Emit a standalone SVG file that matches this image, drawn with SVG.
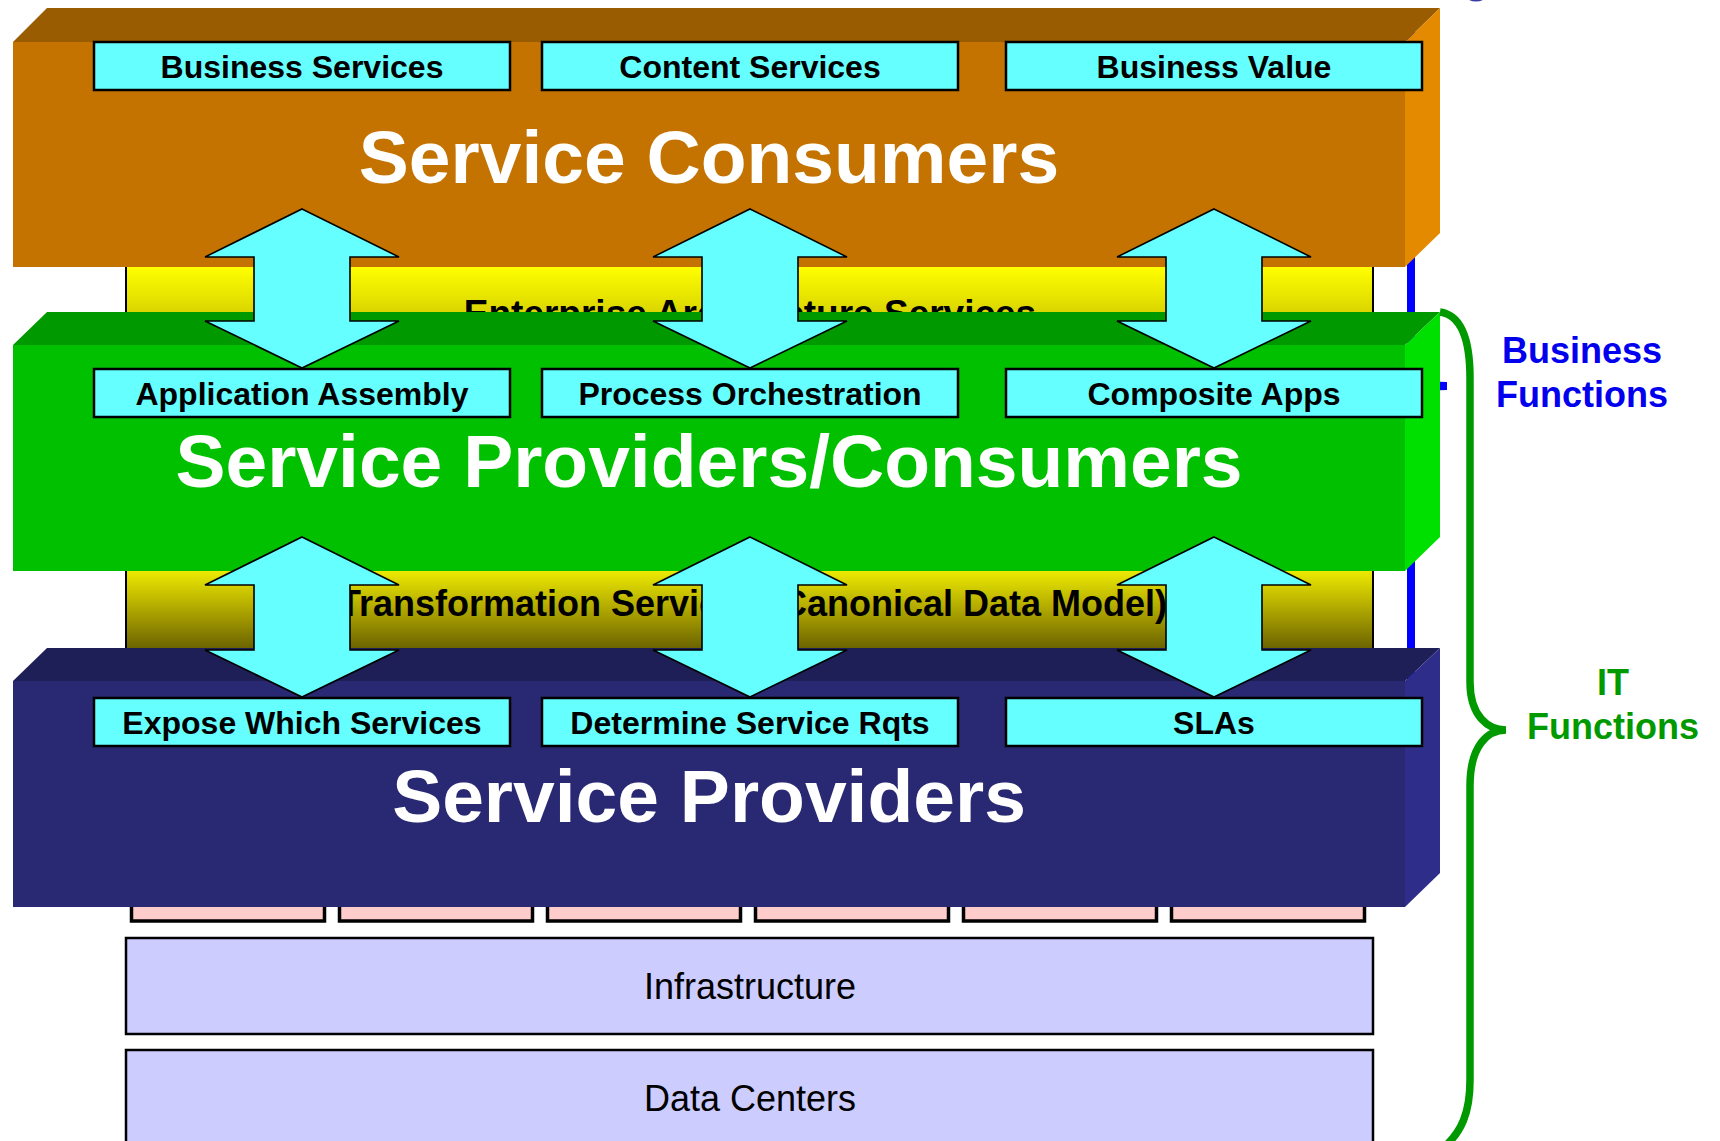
<svg xmlns="http://www.w3.org/2000/svg" width="1720" height="1141" viewBox="0 0 1720 1141">
  <defs>
    <linearGradient id="band1" gradientUnits="userSpaceOnUse" x1="0" y1="267" x2="0" y2="340">
      <stop offset="0" stop-color="#FFFF00"/>
      <stop offset="1" stop-color="#C4BC00"/>
    </linearGradient>
    <linearGradient id="band2" gradientUnits="userSpaceOnUse" x1="0" y1="565" x2="0" y2="648">
      <stop offset="0" stop-color="#F6F400"/>
      <stop offset="0.5" stop-color="#B4AC00"/>
      <stop offset="1" stop-color="#6C6400"/>
    </linearGradient>
    <style>
      .box { fill: #66FFFF; stroke: #000; stroke-width: 2.5; }
      .boxtxt { font-family: "Liberation Sans", Arial, sans-serif; font-weight: bold; font-size: 32px; fill: #000; text-anchor: middle; }
      .big { font-family: "Liberation Sans", Arial, sans-serif; font-weight: bold; font-size: 75px; fill: #FFFFFF; text-anchor: middle; }
      .bandtxt { font-family: "Liberation Sans", Arial, sans-serif; font-weight: bold; font-size: 36px; fill: #000; text-anchor: middle; }
      .band { stroke: #000; stroke-width: 2; }
      .pink { fill: #FFCCCC; stroke: #000; stroke-width: 3.5; }
      .lav { fill: #CCCCFF; stroke: #000; stroke-width: 2.5; }
      .lavtxt { font-family: "Liberation Sans", Arial, sans-serif; font-size: 36px; fill: #000; text-anchor: middle; }
      .arrow { fill: #66FFFF; stroke: #000; stroke-width: 1.6; stroke-linejoin: miter; }
      .side { font-family: "Liberation Sans", Arial, sans-serif; font-weight: bold; font-size: 36px; text-anchor: middle; }
    </style>
  </defs>
  <rect x="0" y="0" width="1720" height="1141" fill="#FFFFFF"/>

  <!-- blue brace (mostly hidden behind the layers) -->
  <g id="business-brace">
    <ellipse cx="1476" cy="-3" rx="9" ry="4.5" fill="#3A3AA8"/>
    <path d="M1411,30 V368 Q1411,386 1447,386 Q1411,386 1411,404 V880" fill="none" stroke="#0000FF" stroke-width="8"/>
  </g>

  <g id="enterprise-architecture-services">
    <rect class="band" x="126" y="250" width="1247" height="95" fill="url(#band1)"/>
    <text class="bandtxt" x="750" y="326" style="font-size:37px">Enterprise Architecture Services</text>
  </g>

  <g id="transformation-services">
    <rect class="band" x="126" y="545" width="1247" height="104" fill="url(#band2)"/>
    <text class="bandtxt" x="753" y="616">Transformation Services (Canonical Data Model)</text>
  </g>

  <g id="pink-components">
    <rect class="pink" x="131.5" y="880" width="193" height="41"/>
    <rect class="pink" x="339.5" y="880" width="193" height="41"/>
    <rect class="pink" x="547.5" y="880" width="193" height="41"/>
    <rect class="pink" x="755.5" y="880" width="193" height="41"/>
    <rect class="pink" x="963.5" y="880" width="193" height="41"/>
    <rect class="pink" x="1171.5" y="880" width="193" height="41"/>
  </g>

  <g id="infrastructure">
    <rect class="lav" x="126" y="938" width="1247" height="96"/>
    <text class="lavtxt" x="750" y="999">Infrastructure</text>
  </g>

  <g id="data-centers">
    <rect class="lav" x="126" y="1050" width="1247" height="100"/>
    <text class="lavtxt" x="750" y="1111">Data Centers</text>
  </g>

  <g id="service-consumers">
    <polygon points="13,42 47,8 1440,8 1405,42" fill="#995C00"/>
    <rect x="13" y="42" width="1392" height="225" fill="#C47300"/>
    <polygon points="1405,42 1440,8 1440,233 1405,267" fill="#E38A00"/>
    <text class="big" x="709" y="183">Service Consumers</text>
  </g>

  <g id="service-providers-consumers">
    <polygon points="13,345 47,312 1440,312 1405,345" fill="#009900"/>
    <rect x="13" y="345" width="1392" height="226" fill="#00C000"/>
    <polygon points="1405,345 1440,312 1440,537 1405,571" fill="#00E000"/>
    <text class="big" x="709" y="487">Service Providers/Consumers</text>
  </g>

  <g id="service-providers">
    <polygon points="13,681 47,648 1440,648 1405,681" fill="#1F1F58"/>
    <rect x="13" y="681" width="1392" height="226" fill="#282873"/>
    <polygon points="1405,681 1440,648 1440,873 1405,907" fill="#2E2E8A"/>
    <text class="big" x="709" y="822">Service Providers</text>
  </g>

  <g id="connectors">
    <polygon class="arrow" points="302,209 399,257 350,257 350,321 399,321 302,368 205,321 254,321 254,257 205,257"/>
    <polygon class="arrow" points="750,209 847,257 798,257 798,321 847,321 750,368 653,321 702,321 702,257 653,257"/>
    <polygon class="arrow" points="1214,209 1311,257 1262,257 1262,321 1311,321 1214,368 1117,321 1166,321 1166,257 1117,257"/>
    <polygon class="arrow" points="302,537 399,585 350,585 350,650 399,650 302,697 205,650 254,650 254,585 205,585"/>
    <polygon class="arrow" points="750,537 847,585 798,585 798,650 847,650 750,697 653,650 702,650 702,585 653,585"/>
    <polygon class="arrow" points="1214,537 1311,585 1262,585 1262,650 1311,650 1214,697 1117,650 1166,650 1166,585 1117,585"/>
  </g>

  <g id="business-services">
    <rect class="box" x="94" y="42" width="416" height="48"/>
    <text class="boxtxt" x="302" y="78">Business Services</text>
  </g>
  <g id="content-services">
    <rect class="box" x="542" y="42" width="416" height="48"/>
    <text class="boxtxt" x="750" y="78">Content Services</text>
  </g>
  <g id="business-value">
    <rect class="box" x="1006" y="42" width="416" height="48"/>
    <text class="boxtxt" x="1214" y="78">Business Value</text>
  </g>

  <g id="application-assembly">
    <rect class="box" x="94" y="369" width="416" height="48"/>
    <text class="boxtxt" x="302" y="405">Application Assembly</text>
  </g>
  <g id="process-orchestration">
    <rect class="box" x="542" y="369" width="416" height="48"/>
    <text class="boxtxt" x="750" y="405">Process Orchestration</text>
  </g>
  <g id="composite-apps">
    <rect class="box" x="1006" y="369" width="416" height="48"/>
    <text class="boxtxt" x="1214" y="405">Composite Apps</text>
  </g>

  <g id="expose-which-services">
    <rect class="box" x="94" y="698" width="416" height="48"/>
    <text class="boxtxt" x="302" y="734">Expose Which Services</text>
  </g>
  <g id="determine-service-rqts">
    <rect class="box" x="542" y="698" width="416" height="48"/>
    <text class="boxtxt" x="750" y="734">Determine Service Rqts</text>
  </g>
  <g id="slas">
    <rect class="box" x="1006" y="698" width="416" height="48"/>
    <text class="boxtxt" x="1214" y="734">SLAs</text>
  </g>

  <g id="business-functions">
    <text class="side" x="1582" y="363" fill="#0000EE">Business</text>
    <text class="side" x="1582" y="407" fill="#0000EE">Functions</text>
  </g>

  <g id="it-brace">
    <path d="M1440,312 C1461,315 1470,338 1470,378 V682 C1470,716 1488,730 1506,730 C1488,730 1470,745 1470,786 V1080 C1470,1112 1462,1132 1443,1148" fill="none" stroke="#009900" stroke-width="7.5"/>
  </g>

  <g id="it-functions">
    <text class="side" x="1613" y="695" fill="#009900">IT</text>
    <text class="side" x="1613" y="739" fill="#009900">Functions</text>
  </g>
</svg>
